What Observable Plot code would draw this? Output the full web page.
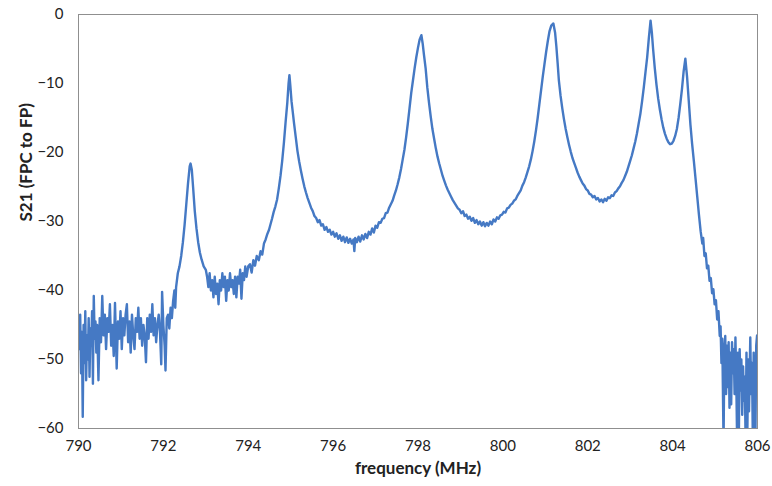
<!DOCTYPE html>
<html>
<head>
<meta charset="utf-8">
<script src="https://cdn.jsdelivr.net/npm/d3@7"></script>
<script src="https://cdn.jsdelivr.net/npm/@observablehq/plot@0.6"></script>
<style>
  html, body { margin: 0; padding: 0; background: #fff; }
  #chart { width: 772px; height: 486px; }
</style>
</head>
<body>
<div id="chart"></div>
<script>
// [frequency MHz, S21 dB], by region
const lowBand = [
  [790.00,-44.0],[790.02,-48.5],[790.04,-43.5],[790.06,-52.0],[790.08,-46.0],[790.10,-58.3],
  [790.12,-45.0],[790.14,-50.5],[790.16,-43.0],[790.18,-53.0],[790.20,-46.5],[790.22,-50.0],
  [790.24,-44.0],[790.26,-52.5],[790.28,-45.5],[790.30,-48.0],[790.32,-43.0],[790.34,-53.5],
  [790.36,-40.8],[790.38,-47.0],[790.40,-44.5],[790.42,-49.0],[790.44,-45.0],[790.47,-53.0],
  [790.50,-44.0],[790.53,-47.5],[790.56,-40.8],[790.59,-46.5],[790.62,-43.5],[790.65,-48.5],
  [790.68,-44.0],[790.71,-46.0],[790.74,-42.0],[790.77,-48.0],[790.80,-45.0],[790.83,-49.5],
  [790.86,-41.8],[790.90,-51.3],[790.93,-44.5],[790.96,-47.0],[790.99,-43.0],[791.02,-48.5],
  [791.05,-44.0],[791.08,-46.5],[791.11,-43.5],[791.14,-42.0],[791.17,-47.5],[791.20,-44.5],
  [791.23,-49.0],[791.26,-43.5],[791.29,-46.5],[791.32,-48.5],[791.35,-44.0],[791.38,-46.0],
  [791.41,-42.5],[791.44,-47.0],[791.47,-44.0],[791.50,-48.0],[791.53,-45.0],[791.56,-46.5],
  [791.59,-50.4],[791.62,-44.0],[791.65,-47.0],[791.68,-43.5],[791.71,-46.0],[791.74,-42.0],
  [791.77,-46.5],[791.80,-44.0],[791.83,-47.5],[791.86,-45.0],[791.89,-43.5],[791.92,-46.0],
  [791.95,-50.7],[791.97,-40.2],[792.00,-45.0],[792.03,-48.0],[792.05,-51.6],[792.08,-44.0],
  [792.11,-43.5],[792.14,-45.5],[792.17,-42.5],[792.20,-44.0],[792.23,-41.5],[792.26,-40.0],
  [792.28,-42.5]
];
const mode1 = [
  [792.30,-39.5],[792.34,-37.5],[792.38,-36.5],[792.42,-35.0],[792.46,-33.0],[792.50,-30.5],
  [792.54,-27.5],[792.58,-24.5],[792.62,-22.0],[792.64,-21.6],[792.67,-22.5],[792.70,-25.0],
  [792.74,-28.5],[792.78,-31.0],[792.82,-33.0],[792.86,-34.5],[792.90,-35.5],[792.95,-36.5],
  [793.00,-37.0]
];
const valley12 = [
  [793.03,-38.0],[793.06,-39.5],[793.09,-37.5],[793.12,-40.0],[793.15,-38.5],[793.18,-41.0],
  [793.21,-38.0],[793.24,-40.5],[793.27,-39.0],[793.30,-42.0],[793.33,-38.5],[793.36,-40.0],
  [793.39,-37.5],[793.42,-39.5],[793.45,-38.0],[793.48,-41.5],[793.51,-38.5],[793.54,-40.0],
  [793.57,-37.5],[793.60,-39.5],[793.63,-38.5],[793.66,-40.5],[793.69,-38.0],[793.72,-41.0],
  [793.75,-38.0],[793.78,-39.0],[793.81,-37.0],[793.84,-41.2],[793.87,-37.5],[793.90,-38.5],
  [793.93,-36.5],[793.96,-38.0],[794.00,-36.5]
];
const mode2 = [
  [794.04,-36.2],[794.08,-37.4],[794.12,-35.6],[794.16,-36.4],[794.20,-35.0],[794.25,-35.6],
  [794.29,-34.3],[794.33,-34.8],[794.37,-33.2],[794.41,-32.6],[794.45,-31.8],[794.49,-31.2],
  [794.52,-30.5],[794.56,-29.6],[794.60,-28.6],[794.64,-27.8],[794.68,-26.8],[794.72,-25.2],
  [794.76,-23.4],[794.80,-21.2],[794.84,-18.6],[794.88,-15.6],[794.92,-12.8],[794.95,-10.0],
  [794.97,-8.8],[794.99,-10.2],[795.02,-12.6],[795.05,-14.2],[795.08,-15.8],[795.12,-17.8],
  [795.16,-19.8],[795.20,-21.3],[795.24,-22.6],[795.28,-23.8],[795.32,-24.9],[795.36,-25.8],
  [795.40,-26.6],[795.44,-27.3],[795.48,-28.0],[795.52,-28.5],[795.56,-29.2],[795.60,-29.5]
];
const valley23 = [
  [795.64,-30.1],[795.68,-29.8],[795.72,-30.6],[795.76,-30.4],[795.80,-31.2],[795.84,-30.8],
  [795.88,-31.5],[795.92,-31.2],[795.96,-31.9],[796.00,-31.5],[796.04,-32.2],[796.08,-31.7],
  [796.12,-32.5],[796.16,-32.0],[796.20,-32.8],[796.24,-32.2],[796.28,-33.0],[796.32,-32.3],
  [796.36,-33.1],[796.40,-32.5],[796.44,-33.2],[796.48,-32.6],[796.50,-34.3],[796.52,-32.4],
  [796.56,-33.0],[796.60,-32.2],[796.64,-32.9],[796.68,-32.0],[796.72,-32.6],[796.76,-31.8],
  [796.80,-32.4],[796.84,-31.5],[796.88,-31.9],[796.92,-31.0],[796.96,-31.6],[797.00,-30.6],
  [797.04,-30.9],[797.08,-30.1],[797.12,-30.2],[797.16,-29.6],[797.20,-29.5],[797.24,-28.8],
  [797.28,-28.7],[797.32,-28.0],[797.36,-27.5],[797.40,-27.0]
];
const mode3 = [
  [797.44,-26.2],[797.48,-25.5],[797.52,-24.6],[797.56,-23.6],[797.60,-22.4],[797.64,-21.0],
  [797.68,-19.6],[797.72,-17.8],[797.76,-15.8],[797.80,-13.6],[797.84,-11.4],[797.88,-9.6],
  [797.92,-7.8],[797.96,-6.2],[798.00,-4.8],[798.04,-3.6],[798.08,-3.0],[798.11,-4.2],
  [798.14,-5.8],[798.18,-7.8],[798.22,-10.6],[798.26,-12.8],[798.30,-14.8],[798.34,-16.6],
  [798.38,-18.0],[798.42,-19.4],[798.46,-20.6],[798.50,-21.6],[798.54,-22.5],[798.58,-23.4],
  [798.62,-24.1],[798.66,-24.8],[798.70,-25.4],[798.74,-25.9],[798.78,-26.4],[798.82,-26.9],
  [798.86,-27.3]
];
const valley34 = [
  [798.90,-27.7],[798.94,-28.1],[798.98,-28.3],[799.02,-28.8],[799.06,-28.5],[799.10,-29.2],
  [799.14,-29.0],[799.18,-29.6],[799.22,-29.3],[799.26,-29.9],[799.30,-29.5],[799.34,-30.2],
  [799.38,-29.8],[799.42,-30.4],[799.46,-30.0],[799.50,-30.6],[799.54,-30.1],[799.58,-30.7],
  [799.62,-30.2],[799.66,-30.6],[799.70,-30.0],[799.74,-30.4],[799.78,-29.7],[799.82,-30.0],
  [799.86,-29.4],[799.90,-29.6],[799.94,-29.1],[799.98,-29.0],[800.02,-28.6],[800.06,-28.7],
  [800.10,-28.1],[800.14,-28.0],[800.18,-27.6],[800.22,-27.4],[800.26,-27.0],[800.30,-26.8]
];
const mode4 = [
  [800.34,-26.3],[800.38,-25.9],[800.42,-25.5],[800.46,-24.8],[800.50,-24.3],[800.54,-23.6],
  [800.58,-22.8],[800.62,-22.0],[800.66,-21.0],[800.70,-19.8],[800.74,-18.4],[800.78,-16.8],
  [800.82,-15.0],[800.86,-13.0],[800.90,-11.0],[800.94,-9.0],[800.98,-7.2],[801.02,-5.4],
  [801.06,-3.8],[801.10,-2.4],[801.14,-1.6],[801.19,-1.3],[801.23,-2.6],[801.26,-4.6],
  [801.29,-7.0],[801.32,-9.6],[801.36,-11.8],[801.40,-13.6],[801.44,-15.2],[801.48,-16.6],
  [801.52,-17.8],[801.56,-18.9],[801.60,-19.9],[801.64,-20.8],[801.68,-21.5],[801.72,-22.2],
  [801.76,-22.9],[801.80,-23.5],[801.84,-24.0],[801.88,-24.5],[801.92,-24.8],[801.96,-25.3],
  [802.00,-25.5]
];
const valley45 = [
  [802.04,-26.0],[802.08,-26.1],[802.12,-26.5],[802.16,-26.3],[802.20,-26.8],[802.24,-26.6],
  [802.28,-27.1],[802.32,-26.8],[802.36,-27.2],[802.40,-26.7],[802.44,-27.0],[802.48,-26.5],
  [802.52,-26.6],[802.56,-26.2],[802.60,-26.3],[802.64,-25.8],[802.68,-25.6],[802.72,-25.2],
  [802.76,-24.9]
];
const mode5 = [
  [802.80,-24.4],[802.84,-24.0],[802.88,-23.4],[802.92,-22.8],[802.96,-22.0],[803.00,-21.2],
  [803.04,-20.4],[803.08,-19.4],[803.12,-18.4],[803.16,-17.2],[803.20,-15.8],[803.24,-14.4],
  [803.28,-12.6],[803.32,-10.6],[803.36,-8.4],[803.40,-6.2],[803.44,-3.4],[803.48,-0.9],
  [803.51,-2.6],[803.54,-5.0],[803.58,-7.8],[803.62,-10.2],[803.66,-12.2],[803.70,-13.8],
  [803.74,-15.2],[803.78,-16.4],[803.82,-17.3],[803.86,-18.0],[803.90,-18.5],[803.94,-18.8],
  [803.98,-18.7],[804.02,-18.3]
];
const mode6 = [
  [804.06,-17.6],[804.10,-16.6],[804.14,-15.0],[804.18,-13.0],[804.22,-10.8],[804.26,-8.2],
  [804.30,-6.4],[804.34,-9.0],[804.38,-12.5],[804.42,-16.0],[804.46,-18.8],[804.50,-21.2],
  [804.54,-23.8],[804.58,-26.4],[804.62,-29.0],[804.66,-31.4],[804.70,-33.2]
];
const highBand = [
  [804.72,-32.4],[804.75,-35.0],[804.78,-34.6],[804.81,-36.8],[804.84,-36.4],[804.87,-38.6],
  [804.90,-38.2],[804.93,-40.4],[804.96,-39.8],[804.99,-42.0],[805.02,-41.4],[805.05,-44.2],
  [805.08,-43.0],[805.11,-46.6],[805.13,-45.2],[805.15,-50.5],[805.17,-47.0],[805.20,-62.0],
  [805.22,-48.5],[805.24,-46.6],[805.26,-55.0],[805.28,-48.0],[805.30,-54.0],[805.32,-47.5],
  [805.34,-57.0],[805.36,-49.0],[805.38,-56.5],[805.40,-47.5],[805.42,-52.0],[805.44,-48.5],
  [805.46,-55.0],[805.48,-46.8],[805.50,-53.0],[805.52,-62.0],[805.54,-49.0],[805.56,-61.5],
  [805.58,-48.5],[805.60,-54.5],[805.62,-50.0],[805.64,-58.0],[805.66,-51.0],[805.68,-56.0],
  [805.70,-52.5],[805.72,-62.0],[805.74,-49.0],[805.76,-61.0],[805.78,-50.0],[805.80,-57.5],
  [805.83,-46.8],[805.85,-55.0],[805.87,-50.5],[805.89,-61.5],[805.91,-49.0],[805.93,-58.0],
  [805.95,-62.0],[805.97,-48.0],[805.99,-46.5],[806.00,-52.0]
];

const xTicks = [790, 792, 794, 796, 798, 800, 802, 804, 806];
const yTicks = [-60, -50, -40, -30, -20, -10, 0];
const xTitle = "frequency (MHz)";
const yTitle = "S21 (FPC to FP)";

const data = [lowBand, mode1, valley12, mode2, valley23, mode3, valley34, mode4,
              valley45, mode5, mode6, highBand].flat().map(([f, db]) => ({f, db}));

const chart = Plot.plot({
  width: 772,
  height: 486,
  marginLeft: 78,
  marginRight: 15,
  marginTop: 14,
  marginBottom: 58,
  style: {fontFamily: "Lato, 'Open Sans', sans-serif", fontSize: "15px", color: "#222", background: "#fff"},
  x: {domain: [790, 806]},
  y: {domain: [-60, 0]},
  marks: [
    Plot.axisX(xTicks, {tickSize: 0, tickPadding: 12, label: null, fontSize: 15}),
    Plot.axisY(yTicks, {tickSize: 0, tickPadding: 15, label: null, fontSize: 15}),
    Plot.line(data, {x: "f", y: "db", stroke: "#4579c4", strokeWidth: 2.4, clip: true, curve: "linear"}),
    Plot.frame({stroke: "#8f8f8f", strokeWidth: 1}),
    Plot.text([xTitle], {frameAnchor: "bottom", dy: 45, fontWeight: "bold", fontSize: 17}),
    Plot.text([yTitle], {frameAnchor: "left", dx: -52, rotate: -90, fontWeight: "bold", fontSize: 17})
  ]
});
document.getElementById("chart").appendChild(chart);
</script>
</body>
</html>
